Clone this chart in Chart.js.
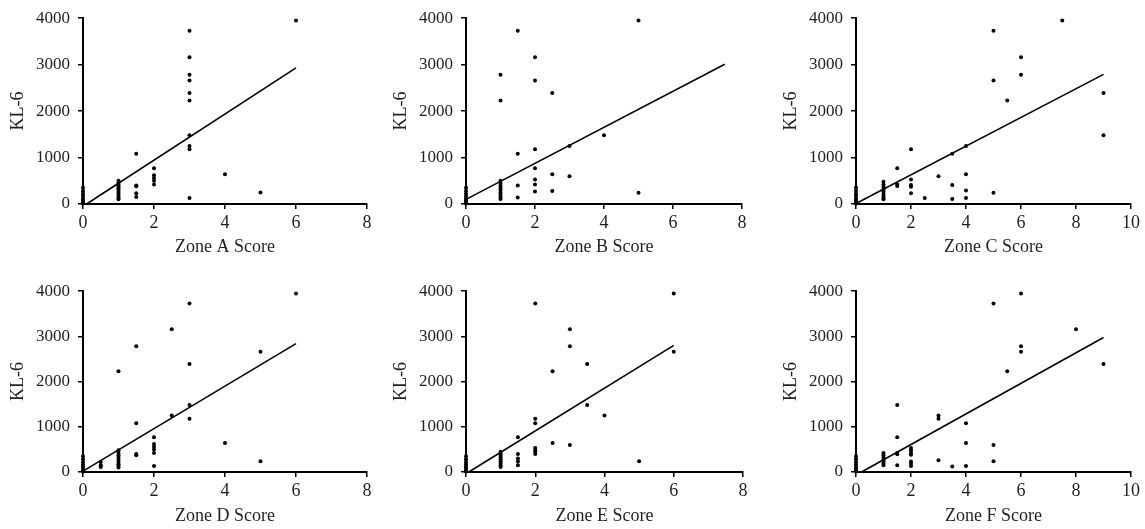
<!DOCTYPE html>
<html>
<head>
<meta charset="utf-8">
<script src="https://cdn.jsdelivr.net/npm/chart.js@4"></script>
<style>
    html, body { margin: 0; padding: 0; background: #fff; }
    body { width: 1145px; height: 529px; position: relative; overflow: hidden; }
    .panel { position: absolute; }
</style>
</head>
<body>
<div class="panel" style="left:0px;top:0px;width:377px;height:258px"><canvas id="zoneA"></canvas></div>
<div class="panel" style="left:383px;top:0px;width:369px;height:258px"><canvas id="zoneB"></canvas></div>
<div class="panel" style="left:773px;top:0px;width:370px;height:258px"><canvas id="zoneC"></canvas></div>
<div class="panel" style="left:0px;top:273px;width:377px;height:254px"><canvas id="zoneD"></canvas></div>
<div class="panel" style="left:383px;top:273px;width:370px;height:254px"><canvas id="zoneE"></canvas></div>
<div class="panel" style="left:773px;top:273px;width:370px;height:254px"><canvas id="zoneF"></canvas></div>

<script>
// ==== DONNEES ====

const yTicks = [0, 1000, 2000, 3000, 4000];

// Zone A
const zoneAx = [0,0,0,0,0,0,0,0, 1,1,1,1,1,1,1,1,1,1,1, 1.5,1.5,1.5,1.5,1.5, 2,2,2,2,2, 3,3,3,3,3,3,3,3,3,3, 4, 5, 6];
const zoneAy = [350,280,220,170,120,80,40,10, 500,460,420,380,340,300,260,220,180,140,100, 1080,400,380,230,150, 770,620,560,500,420, 3730,3160,2780,2660,2390,2230,1480,1250,1180,130, 640, 250, 3950];
const fitA = [[0.1, 0], [6, 2930]];

// Zone B
const zoneBx = [0,0,0,0,0,0,0,0, 1,1,1,1,1,1,1,1,1,1,1, 1.5,1.5,1.5,1.5, 2,2,2,2,2,2,2, 2.5,2.5,2.5, 3,3, 4, 5,5, 7.5];
const zoneBy = [350,280,220,170,120,80,40,10, 2780,500,450,400,350,300,250,200,150,110, 2230,1080,400,140, 3730,2660,1180,770,530,420,270, 3160,640,280, 2390,600, 1250, 1480,240, 3950];
const fitB = [[0, 100], [7.5, 3010]];

// Zone C
const zoneCx = [0,0,0,0,0,0,0,0, 1,1,1,1,1,1,1,1,1, 1.5,1.5,1.5, 2,2,2,2,2, 2.5, 3, 3.5,3.5,3.5, 4,4,4,4, 5,5,5, 5.5, 6,6, 7.5, 9,9];
const zoneCy = [350,280,220,170,120,80,40,10, 480,420,370,320,270,220,170,130,100, 770,420,390, 1180,530,410,370,230, 130, 600, 1080,410,110, 1250,640,290,130, 3730,2660,240, 2230, 3160,2780, 3950, 2390,1480];
const fitC = [[0, 10], [9, 2790]];

// Zone D
const zoneDx = [0,0,0,0,0,0,0,0, 0.5,0.5,0.5, 1,1,1,1,1,1,1,1,1,1, 1.5,1.5,1.5,1.5, 2,2,2,2,2,2, 2.5,2.5, 3,3,3,3, 4, 5,5, 6];
const zoneDy = [350,280,220,170,120,80,40,10, 220,150,110, 2230,480,420,370,320,270,220,170,130,100, 2780,1080,400,370, 770,620,560,500,420,130, 3160,1250, 3730,2390,1480,1180, 640, 2660,240, 3950];
const fitD = [[0, 20], [6, 2840]];

// Zone E
const zoneEx = [0,0,0,0,0,0,0,0, 1,1,1,1,1,1,1,1,1, 1.5,1.5,1.5,1.5,1.5, 2,2,2,2,2,2,2, 2.5,2.5, 3,3,3, 3.5,3.5, 4, 5, 6,6];
const zoneEy = [350,280,220,170,120,80,40,10, 450,400,360,320,280,240,200,150,110, 770,400,300,230,150, 3730,1180,1080,530,480,440,400, 2230,640, 3160,2780,600, 2390,1480, 1250, 240, 3950,2660];
const fitE = [[0.08, 0], [6, 2800]];

// Zone F
const zoneFx = [0,0,0,0,0,0,0,0, 1,1,1,1,1,1,1, 1.5,1.5,1.5,1.5,1.5, 2,2,2,2,2,2,2, 3,3,3, 3.5, 4,4,4, 5,5,5, 5.5, 6,6,6, 8, 9];
const zoneFy = [350,280,220,170,120,80,40,10, 420,370,320,270,230,190,150, 1480,770,420,390,150, 530,480,420,380,230,180,130, 1250,1180,260, 120, 1080,640,130, 3730,600,240, 2230, 3950,2780,2660, 3160, 2390];
const fitF = [[0.2, 0], [9, 2975]];

// ==== CONSTRUCTION DES GRAPHIQUES ====

const textColor = '#231f20';
const serif = "'Liberation Serif', 'DejaVu Serif', serif";

function toPoints(xs, ys) {
    return xs.map((x, i) => ({ x: x, y: ys[i] }));
}

function makeZoneChart(canvasId, title, xs, ys, fit, xMax, xAxisHeight) {
    const ctx = document.getElementById(canvasId);
    return new Chart(ctx, {
        type: 'scatter',
        data: {
            datasets: [{
                data: toPoints(xs, ys),
                backgroundColor: '#000',
                borderColor: '#000',
                pointRadius: 2,
                pointHoverRadius: 2,
                borderWidth: 0,
                clip: false
            }, {
                data: fit.map(p => ({ x: p[0], y: p[1] })),
                showLine: true,
                borderColor: '#000',
                borderWidth: 1.6,
                pointRadius: 0,
                fill: false,
                clip: false
            }]
        },
        options: {
            responsive: true,
            maintainAspectRatio: false,
            animation: false,
            events: [],
            layout: { padding: { top: 15, right: 10, bottom: 0, left: 0 } },
            plugins: {
                legend: { display: false },
                tooltip: { enabled: false }
            },
            scales: {
                x: {
                    type: 'linear',
                    min: 0,
                    max: xMax,
                    afterFit: function (scale) { scale.height = xAxisHeight; },
                    border: { display: true, color: '#000', width: 2 },
                    grid: { display: true, drawOnChartArea: false, drawTicks: true, tickLength: 5, color: '#000', lineWidth: 1.5 },
                    ticks: { stepSize: 2, padding: 3, color: textColor, font: { family: serif, size: 18 }, callback: v => String(v) },
                    title: { display: true, text: title, color: textColor, padding: { top: 0, bottom: 0 }, font: { family: serif, size: 18 } }
                },
                y: {
                    type: 'linear',
                    min: 0,
                    max: 4000,
                    afterFit: function (scale) { scale.width = 83; },
                    afterBuildTicks: function (scale) { scale.ticks = yTicks.map(v => ({ value: v })); },
                    border: { display: true, color: '#000', width: 2 },
                    grid: { display: true, drawOnChartArea: false, drawTicks: true, tickLength: 5, color: '#000', lineWidth: 1.5 },
                    ticks: { padding: 8, color: textColor, font: { family: serif, size: 17 }, callback: v => String(v) },
                    title: { display: true, text: 'KL-6', color: textColor, padding: { top: 7, bottom: 0 }, font: { family: serif, size: 18 } }
                }
            }
        }
    });
}

makeZoneChart('zoneA', 'Zone A Score', zoneAx, zoneAy, fitA, 8, 54);
makeZoneChart('zoneB', 'Zone B Score', zoneBx, zoneBy, fitB, 8, 54);
makeZoneChart('zoneC', 'Zone C Score', zoneCx, zoneCy, fitC, 10, 54);
makeZoneChart('zoneD', 'Zone D Score', zoneDx, zoneDy, fitD, 8, 55);
makeZoneChart('zoneE', 'Zone E Score', zoneEx, zoneEy, fitE, 8, 55);
makeZoneChart('zoneF', 'Zone F Score', zoneFx, zoneFy, fitF, 10, 55);
</script>
</body>
</html>
